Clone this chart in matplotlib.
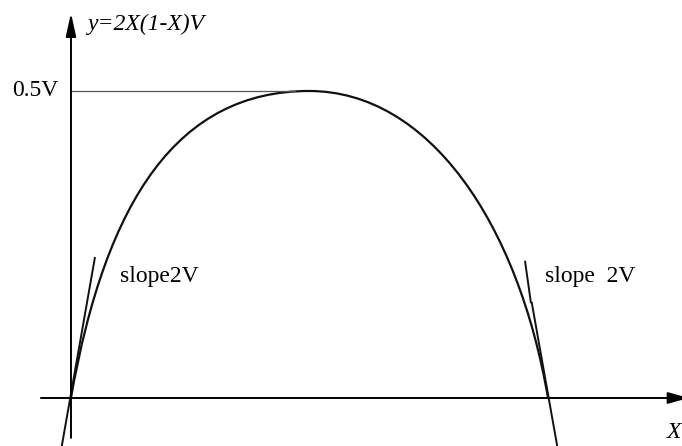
import matplotlib.pyplot as plt
from matplotlib.path import Path
from matplotlib.patches import PathPatch

plt.rcParams['font.family'] = ['Liberation Serif', 'DejaVu Serif']

# y = 2X(1-X)V drawn as two cubic Bezier arcs: root -> peak -> root
# (X, y/V) for the anchor and control points
curve_x = [0.0, 0.0734, 0.2264, 0.499, 0.7505, 0.9371, 1.0]
curve_y = [0.0, 0.3257, 0.5, 0.5, 0.5, 0.285, 0.0]

peak_y = 0.5
peak_label = '0.5V'

# tangent segments at both roots
left_tan_x = [-0.019, 0.050]
left_tan_y = [-0.077, 0.228]
right_tan_x = [1.019, 0.966]
right_tan_y = [-0.077, 0.155]
right_tan2_x = [0.964, 0.952]
right_tan2_y = [0.156, 0.222]

fig = plt.figure(figsize=(6.82, 4.46), dpi=100)
ax = fig.add_axes([0, 0, 1, 1])
ax.set_xlim(-0.1488, 1.2809)
ax.set_ylim(-0.0782, 0.6482)
ax.axis('off')

# axes with arrow heads
ax.annotate('', xy=(1.295, 0), xytext=(-0.063, 0), annotation_clip=False,
            arrowprops=dict(arrowstyle='-|>,head_length=0.9,head_width=0.25',
                            mutation_scale=14, lw=1.4, color='black',
                            shrinkA=0, shrinkB=0))
ax.annotate('', xy=(0, 0.627), xytext=(0, -0.065), annotation_clip=False,
            arrowprops=dict(arrowstyle='-|>,head_length=1.0,head_width=0.22',
                            mutation_scale=14, lw=1.4, color='black',
                            shrinkA=0, shrinkB=0))

# the curve and its maximum
codes = [Path.MOVETO] + [Path.CURVE4] * 6
curve = Path(list(zip(curve_x, curve_y)), codes)
ax.add_patch(PathPatch(curve, fill=False, edgecolor='#111111', lw=1.6))
ax.plot([0, 0.47], [peak_y, peak_y], color='#555555', lw=0.9)

ax.plot(left_tan_x, left_tan_y, color='#111111', lw=1.4)
ax.plot(right_tan_x, right_tan_y, color='#111111', lw=1.4)
ax.plot(right_tan2_x, right_tan2_y, color='#111111', lw=1.4)

ax.text(-0.027, peak_y, peak_label, fontsize=17, ha='right', va='center')
ax.text(0.036, 0.609, 'y=2X(1-X)V', fontsize=17, style='italic',
        ha='left', va='center')
ax.text(0.1027, 0.189, 'slope2V', fontsize=17, ha='left', va='baseline')
ax.text(0.9937, 0.189, 'slope  2V', fontsize=17, ha='left', va='baseline')
ax.text(1.264, -0.0554, 'X', fontsize=17, style='italic',
        ha='center', va='center')

fig.savefig('out.png', dpi=100)
